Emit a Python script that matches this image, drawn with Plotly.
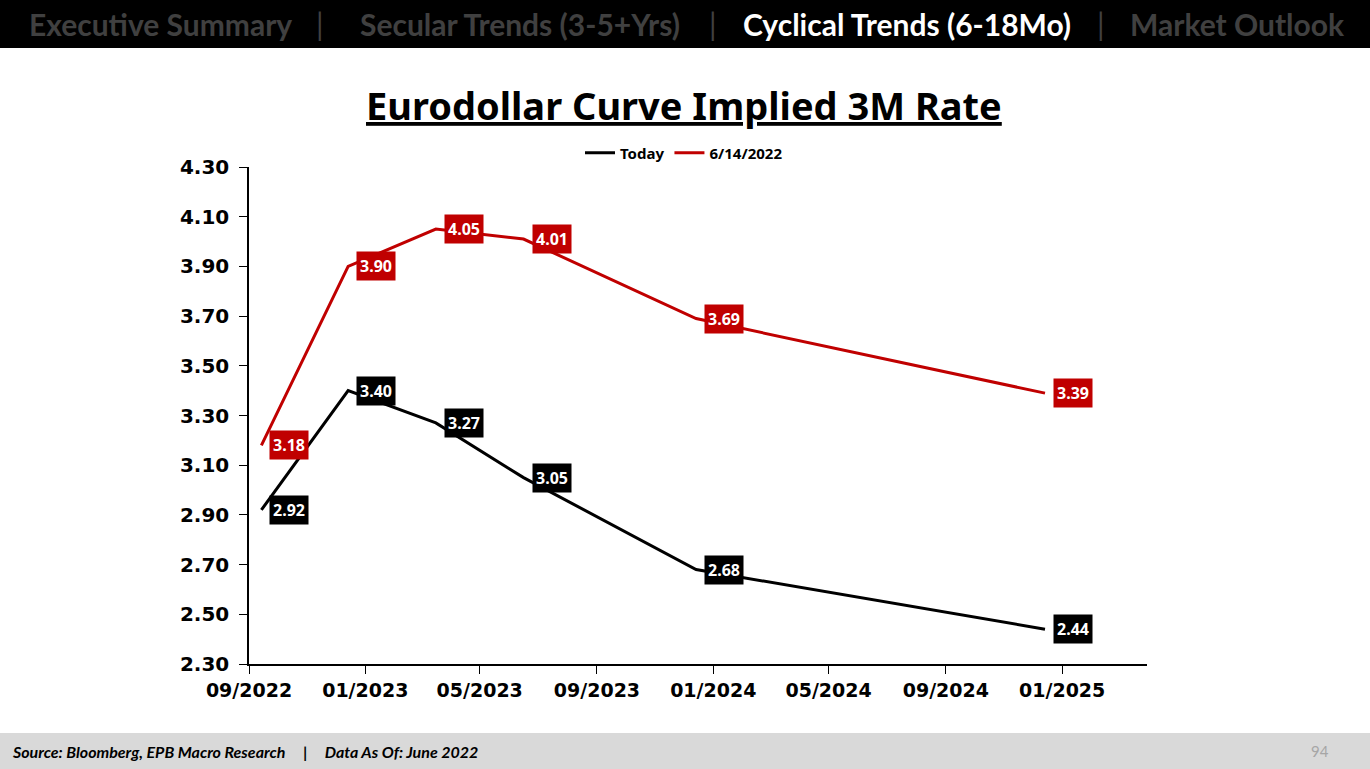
import plotly.graph_objects as go

# --- data ---
contract_dates = ["2022-09-14", "2022-12-14", "2023-03-16", "2023-06-16", "2023-12-14", "2024-12-14"]
today_rates = [2.92, 3.40, 3.27, 3.05, 2.68, 2.44]
prior_rates = [3.18, 3.90, 4.05, 4.01, 3.69, 3.39]
series_names = ["Today", "6/14/2022"]
series_colors = ["#000000", "#C00000"]

nav_items = ["Executive Summary", "Secular Trends (3-5+Yrs)", "Cyclical Trends (6-18Mo)", "Market Outlook"]
active_nav = "Cyclical Trends (6-18Mo)"

W, H = 1370, 769
# plot area in pixels
L, R, T, B = 249, 1147, 167, 664


def px_x(p):
    """pixel x -> paper x"""
    return (p - L) / (R - L)


def px_y(p):
    """pixel y -> paper y"""
    return (B - p) / (B - T)


fig = go.Figure()
for name, vals, color in zip(series_names, [today_rates, prior_rates], series_colors):
    fig.add_trace(go.Scatter(
        x=contract_dates, y=vals, name=name, mode="lines",
        line=dict(color=color, width=3),
    ))

annotations = []
# data labels
for vals, color in zip([today_rates, prior_rates], series_colors):
    for d, v in zip(contract_dates, vals):
        annotations.append(dict(
            x=d, y=v, xref="x", yref="y", text=f"<b>{v:.2f}</b>",
            showarrow=False, xanchor="left", yanchor="middle", xshift=8,
            bgcolor=color, borderpad=3,
            font=dict(family="Noto Sans", size=16, color="white"),
        ))

# title
annotations.append(dict(
    x=px_x(684), y=px_y(105), xref="paper", yref="paper",
    text="<b><u>Eurodollar Curve Implied 3M Rate</u></b>", showarrow=False,
    xanchor="center", yanchor="middle",
    font=dict(family="Noto Sans", size=38, color="black"),
))

# header navigation
nav_centers = [160, 520, 907, 1237]
for item, cx in zip(nav_items, nav_centers):
    annotations.append(dict(
        x=px_x(cx), y=px_y(24), xref="paper", yref="paper",
        text=f"<b>{item}</b>", showarrow=False, xanchor="center", yanchor="middle",
        font=dict(family="Lato", size=30, color="white" if item == active_nav else "#404040"),
    ))
for sx in [320, 713, 1101]:
    annotations.append(dict(
        x=px_x(sx), y=px_y(24), xref="paper", yref="paper", text="|",
        showarrow=False, xanchor="center", yanchor="middle",
        font=dict(family="Lato", size=30, color="#404040"),
    ))

# footer
annotations.append(dict(
    x=px_x(10), y=px_y(751), xref="paper", yref="paper",
    text="<b><i>Source: Bloomberg, EPB Macro Research     |     Data As Of: June 2022</i></b>",
    showarrow=False, xanchor="left", yanchor="middle",
    font=dict(family="Lato", size=16, color="black"),
))
annotations.append(dict(
    x=px_x(1320), y=px_y(751), xref="paper", yref="paper", text="94",
    showarrow=False, xanchor="center", yanchor="middle",
    font=dict(family="Lato", size=15, color="#A6A6A6"),
))

shapes = [
    dict(type="rect", xref="paper", yref="paper", x0=px_x(0), x1=px_x(W), y0=px_y(0), y1=px_y(48),
         fillcolor="black", line=dict(width=0), layer="below"),
    dict(type="rect", xref="paper", yref="paper", x0=px_x(0), x1=px_x(W), y0=px_y(733), y1=px_y(H),
         fillcolor="#D9D9D9", line=dict(width=0), layer="below"),
]

fig.update_layout(
    width=W, height=H,
    margin=dict(l=L, r=W - R, t=T, b=H - B, autoexpand=False),
    paper_bgcolor="white", plot_bgcolor="white",
    annotations=annotations, shapes=shapes,
    legend=dict(
        orientation="h", xref="container", yref="container",
        x=684 / W, y=(H - 153) / H, xanchor="center", yanchor="middle",
        font=dict(family="Noto Sans", size=15, color="black", weight="bold"),
        itemwidth=30, bgcolor="rgba(0,0,0,0)",
    ),
    xaxis=dict(
        type="date", range=["2022-09-01", "2025-03-31"],
        tick0="2022-09-01", dtick="M4", tickformat="%m/%Y",
        showgrid=False, zeroline=False,
        showline=True, linecolor="black", linewidth=1.5,
        ticks="outside", ticklen=8, tickcolor="black",
        tickfont=dict(family="DejaVu Sans", size=19, color="black", weight="bold"),
    ),
    yaxis=dict(
        range=[2.30, 4.30], tick0=2.30, dtick=0.2, tickformat=".2f",
        showgrid=False, zeroline=False,
        showline=True, linecolor="black", linewidth=1.5,
        ticks="outside", ticklen=8, tickcolor="black", ticklabelstandoff=6,
        tickfont=dict(family="DejaVu Sans", size=20, color="black", weight="bold"),
    ),
    showlegend=True,
)

fig.write_html(
    "out.html",
    config={"displayModeBar": False},
    post_script="document.body.style.margin='0';document.body.style.overflow='hidden';",
)
